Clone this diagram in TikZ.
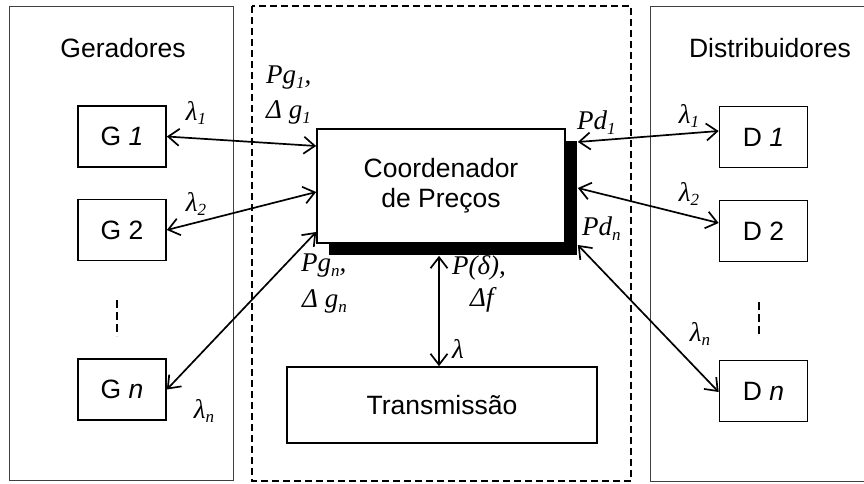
\documentclass[tikz,border=0pt]{standalone}
\usepackage{fontspec}
\setmainfont{Liberation Sans}
\newfontfamily\lblfont{Liberation Serif}
\usetikzlibrary{arrows.meta,shadows,calc}
\newcommand{\sbs}[1]{\raisebox{-0.4ex}{\fontsize{17}{17}\selectfont #1}}
\begin{document}
\begin{tikzpicture}[x=1pt,y=-1pt,
  every node/.style={inner sep=0pt},
  group/.style={draw=black!75, line width=0.8pt},
  unit/.style={draw, line width=1.7pt, minimum width=88pt, minimum height=61pt,
    font=\fontsize{26.5}{30}\selectfont},
  title/.style={font=\fontsize{26.5}{30}\selectfont},
  lbl/.style={font=\lblfont\itshape\fontsize{27}{30}\selectfont},
  link/.style={line width=1.7pt, {Straight Barb[length=11pt,width=17pt,line width=1.7pt]}-{Straight Barb[length=11pt,width=17pt,line width=1.7pt]}}
]
\useasboundingbox (0,0) rectangle (864,483);

% surrounding areas
\draw[group] (9,6) rectangle (233,480);
\draw[line width=1.4pt, dash pattern=on 7pt off 4pt] (252,6) rectangle (631,481);
\draw[group] (870,6) -- (650,6) -- (650,481) -- (870,481);

\node[title] (gt) at (123,48) {Geradores};
\node[title] (dt) at (770,48) {Distribuidores};

% generators
\node[unit] (g1) at (122,136.5) {G \textit{1}};
\node[unit] (g2) at (122,230) {G 2};
\node[unit] (gn) at (122,389.5) {G \textit{n}};
\draw[line width=1.5pt, dash pattern=on 8pt off 4pt] (117,300) coordinate (gd1) -- (117,336) coordinate (gd2);

% distributors
\node[unit] (d1) at (763.5,137) {D \textit{1}};
\node[unit] (d2) at (763.5,231) {D 2};
\node[unit] (dn) at (763.5,391) {D \textit{n}};
\draw[line width=1.5pt, dash pattern=on 8pt off 4pt] (759,302) coordinate (dd1) -- (759,337) coordinate (dd2);

% central boxes
\node[draw, line width=1.7pt, fill=white, minimum width=248pt, minimum height=114pt,
  align=center, font=\fontsize{26.5}{30}\selectfont,
  drop shadow={shadow xshift=12pt, shadow yshift=-12pt, fill=black, opacity=1}]
  (co) at (441,186) {Coordenador\\de Preços};
\node[draw, line width=1.7pt, minimum width=310pt, minimum height=76pt,
  font=\fontsize{26.5}{30}\selectfont] (tr) at (442,405) {Transmissão};

% connectors
\draw[link] (g1.east) -- ([yshift=40pt]co.west);
\draw[link] (g2.east) -- ([yshift=-6pt]co.west);
\draw[link] (gn.east) -- ([yshift=-46pt]co.west);
\draw[link] ([xshift=12pt,yshift=44pt]co.east) -- ([yshift=6pt]d1.west);
\draw[link] ([xshift=12pt,yshift=-2pt]co.east) -- ([yshift=8pt]d2.west);
\draw[link] ([xshift=12pt,yshift=-59pt]co.east) -- ([yshift=-1pt]dn.west);
\draw[link] ([xshift=-2pt,yshift=-12pt]co.south) -- ([xshift=-3pt]tr.north);

% labels
\node[lbl] (l1) at (196,113) {λ\sbs{\textit{1}}};
\node[lbl] (l2) at (196,204) {λ\sbs{2}};
\node[lbl] (ln) at (204,411) {λ\sbs{\textit{n}}};
\node[lbl, anchor=west] (pg1) at (266,78) {Pg\sbs{\textit{1}},};
\node[lbl, anchor=west] (dg1) at (266,112) {Δ g\sbs{\textit{1}}};
\node[lbl, anchor=west] (pgn) at (301,266) {Pg\sbs{\textit{n}},};
\node[lbl, anchor=west] (dgn) at (302,301) {Δ g\sbs{\textit{n}}};
\node[lbl, anchor=west] (pdl) at (452,268) {P(δ),};
\node[lbl, anchor=west] (dfl) at (470,300) {Δf};
\node[lbl, anchor=west] (lam) at (452,349) {λ};
\node[lbl, anchor=west] (pd1) at (577,123) {Pd\sbs{\textit{1}}};
\node[lbl, anchor=west] (pdn) at (582,229) {Pd\sbs{\textit{n}}};
\node[lbl] (r1) at (689,116) {λ\sbs{\textit{1}}};
\node[lbl] (r2) at (689,194) {λ\sbs{2}};
\node[lbl] (rn) at (700,334) {λ\sbs{\textit{n}}};
\end{tikzpicture}
\end{document}
